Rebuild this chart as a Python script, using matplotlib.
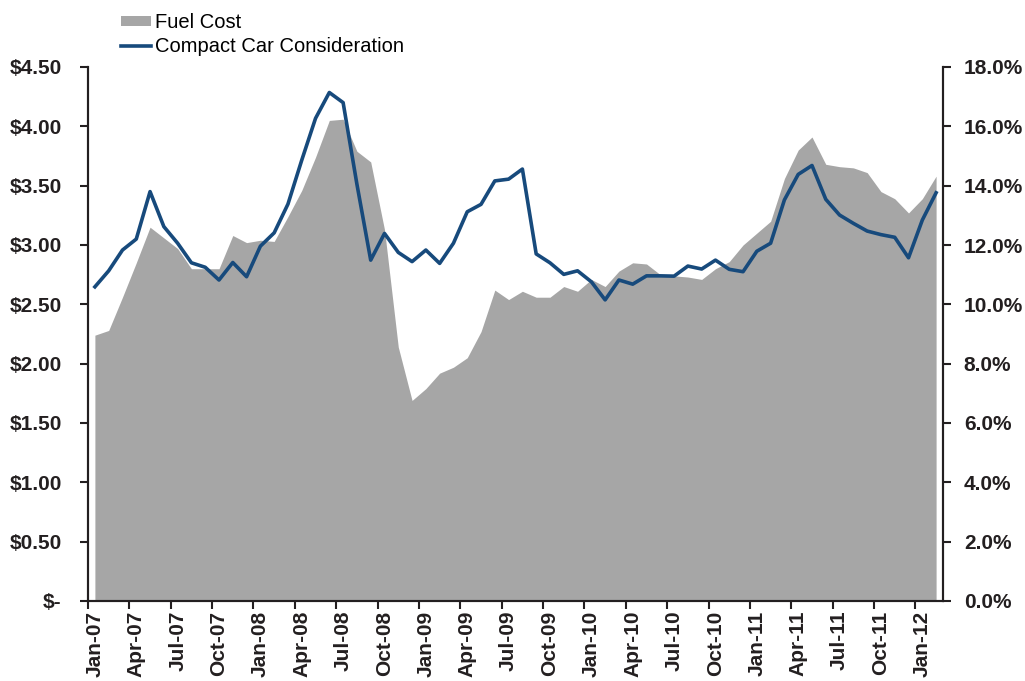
import numpy as np
import matplotlib
matplotlib.use('Agg')
import matplotlib.pyplot as plt
from matplotlib.patches import Patch
from matplotlib.lines import Line2D
from matplotlib.ticker import FuncFormatter

plt.rcParams['font.family'] = ['Liberation Sans', 'DejaVu Sans']

## data, monthly Jan-07 .. Feb-12
#-------------------------------------------------------------------------------
fuel_cost = [2.24, 2.28, 2.56, 2.85, 3.15, 3.06, 2.97, 2.80, 2.80, 2.80,
             3.08, 3.02, 3.04, 3.03, 3.24, 3.46, 3.74, 4.05, 4.06, 3.79,
             3.70, 3.13, 2.14, 1.69, 1.79, 1.92, 1.97, 2.05, 2.27, 2.62,
             2.54, 2.61, 2.56, 2.56, 2.65, 2.61, 2.71, 2.65, 2.78, 2.85,
             2.84, 2.75, 2.74, 2.73, 2.71, 2.80, 2.86, 3.00, 3.10, 3.20,
             3.56, 3.80, 3.91, 3.68, 3.66, 3.65, 3.61, 3.45, 3.39, 3.27,
             3.39, 3.58]
compact_pct = [10.59, 11.13, 11.83, 12.20, 13.80, 12.62, 12.06, 11.40, 11.25, 10.82,
               11.41, 10.93, 11.96, 12.41, 13.38, 14.86, 16.27, 17.14, 16.80, 14.05,
               11.49, 12.39, 11.75, 11.44, 11.83, 11.38, 12.06, 13.12, 13.37, 14.16,
               14.22, 14.56, 11.70, 11.40, 11.01, 11.13, 10.76, 10.15, 10.82, 10.68,
               10.96, 10.96, 10.95, 11.29, 11.19, 11.49, 11.18, 11.10, 11.79, 12.06,
               13.52, 14.38, 14.68, 13.54, 13.01, 12.73, 12.47, 12.35, 12.26, 11.57,
               12.84, 13.76]
tick_labels = ['Jan-07', 'Apr-07', 'Jul-07', 'Oct-07', 'Jan-08', 'Apr-08', 'Jul-08',
               'Oct-08', 'Jan-09', 'Apr-09', 'Jul-09', 'Oct-09', 'Jan-10', 'Apr-10',
               'Jul-10', 'Oct-10', 'Jan-11', 'Apr-11', 'Jul-11', 'Oct-11', 'Jan-12']
#-------------------------------------------------------------------------------

grey = '#a6a6a6'
blue = '#174a7c'
dark = '#231f20'
fs = 15

n = len(fuel_cost)
x = np.arange(n)

fig = plt.figure(figsize=(10.25, 6.81), dpi=100)
ax = fig.add_axes([88/1025, 1-601/681, (943-88)/1025, (601-67)/681])
ax2 = ax.twinx()

ax.fill_between(x, 0, fuel_cost, color=grey, linewidth=0)
ax2.plot(x, np.array(compact_pct)/100, color=blue, linewidth=2.6)

ax.set_xlim(-0.5, n-0.5)
ax.set_ylim(0, 4.5)
ax2.set_ylim(0, 0.18)

ax.set_yticks(np.arange(0, 4.51, 0.5))
ax2.set_yticks(np.arange(0, 0.181, 0.02))
ax.yaxis.set_major_formatter(FuncFormatter(lambda v, p: '$-' if v == 0 else '${:.2f}'.format(v)))
ax2.yaxis.set_major_formatter(FuncFormatter(lambda v, p: '{:.1f}%'.format(v*100)))

# tick marks between categories, labels on the category
ax.set_xticks(np.arange(-0.5, n-1, 3))
ax.set_xticklabels([])
ax.set_xticks(np.arange(0, n, 3), minor=True)
ax.set_xticklabels(tick_labels, minor=True, rotation=90, fontsize=fs, fontweight='bold', color=dark)
ax.tick_params(axis='x', which='minor', length=0, pad=7)
ax.tick_params(axis='x', which='major', length=6, width=1.5, color=dark, direction='out')

ax.tick_params(axis='y', pad=13)
ax2.tick_params(axis='y', pad=9)
for a in (ax, ax2):
    a.tick_params(axis='y', length=6, width=1.5, color=dark, direction='out', labelsize=fs, labelcolor=dark)
    for lab in a.get_yticklabels():
        lab.set_fontweight('bold')
    a.spines['top'].set_visible(False)
    for s in ('left', 'right', 'bottom'):
        a.spines[s].set_color(dark)
        a.spines[s].set_linewidth(1.5)

handles = [Patch(facecolor=grey, edgecolor='none'),
           Line2D([0], [0], color=blue, linewidth=2.6)]
fig.legend(handles, ['Fuel Cost', 'Compact Car Consideration'], loc='upper left',
           bbox_to_anchor=(107/1025, 1+1/681), frameon=False, fontsize=14.5,
           handlelength=1.5, handleheight=0.45, handletextpad=0.2, labelspacing=0.25,
           borderpad=0.2)

plt.savefig('out.png', dpi=100)
